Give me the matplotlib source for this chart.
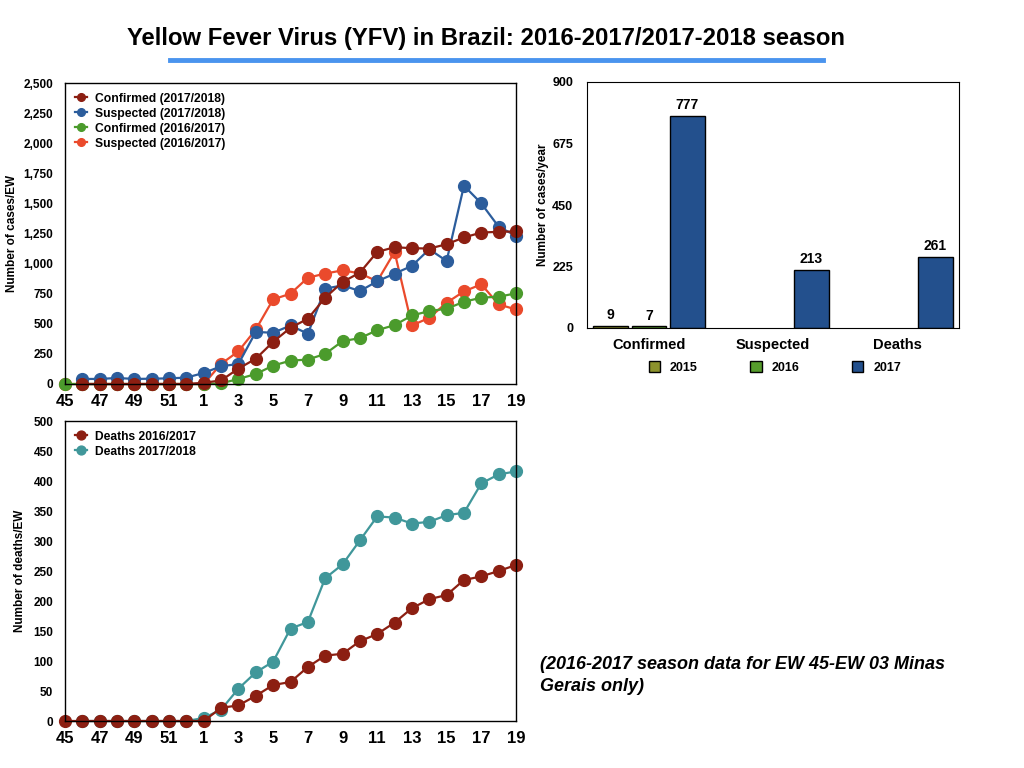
import matplotlib
matplotlib.use("Agg")
import matplotlib.pyplot as plt
from matplotlib.ticker import FuncFormatter

plt.rcParams['font.family'] = ['Liberation Sans', 'DejaVu Sans']

weeks = [45, 46, 47, 48, 49, 50, 51, 52] + list(range(1, 20))
tick_labels = ['45', '47', '49', '51', '1', '3', '5', '7', '9', '11', '13', '15', '17', '19']

# Top chart series (None = no point)
conf_1718 = [None, 0, 0, 0, 0, 0, 0, 0, 10, 30, 128, 210, 350, 467, 542, 717, 847, 925, 1097, 1136, 1128, 1125, 1161, 1217, 1258, 1264, 1267]
susp_1718 = [None, 42, 42, 50, 42, 44, 47, 53, 92, 147, 167, 433, 425, 486, 417, 792, 819, 772, 853, 917, 981, 1119, 1022, 1647, 1500, 1306, 1231]
conf_1617 = [0, 0, 0, 0, 0, 0, 0, 0, 0, 5, 42, 83, 153, 194, 203, 250, 356, 381, 447, 489, 569, 606, 625, 683, 717, 725, 753]
susp_1617 = [0, 0, 0, 0, 0, 0, 0, 0, 0, 167, 272, 453, 703, 750, 883, 917, 944, 919, 853, 1097, 486, 550, 675, 769, 828, 661, 619]

# Bottom chart series
deaths_1617 = [0, 0, 0, 0, 0, 0, 0, 0, 0, 22, 26, 42, 60, 65, 90, 109, 112, 133, 145, 164, 188, 203, 210, 235, 241, 250, 260]
deaths_1718 = [None, 0, 0, 0, 0, 0, 0, 0, 5, 19, 54, 81, 99, 154, 165, 238, 261, 301, 341, 339, 329, 332, 343, 347, 396, 411, 416]

# Bar chart
bar_categories = ['Confirmed', 'Suspected', 'Deaths']
bar_years = ['2015', '2016', '2017']
bar_values = {
    '2015': [9, None, None],
    '2016': [7, None, None],
    '2017': [777, 213, 261],
}

C_DRED = '#8c1f12'
C_BLUE = '#2c5d9c'
C_GREEN = '#4b9b2c'
C_ORANGE = '#ea4a2c'
C_TEAL = '#40979a'
BAR_COLORS = {'2015': '#8c922c', '2016': '#569c2c', '2017': '#23508d'}

fig = plt.figure(figsize=(10.24, 7.68), dpi=100)

fig.text(486 / 1024, 1 - 38 / 768, 'Yellow Fever Virus (YFV) in Brazil: 2016-2017/2017-2018 season',
         ha='center', va='center', fontsize=17.2, fontweight='bold')
fig.add_artist(plt.Line2D([170 / 1024, 823 / 1024], [1 - 60 / 768, 1 - 60 / 768],
                          color='#4a94ee', lw=3.5))

x = list(range(len(weeks)))
tick_pos = [i for i, w in enumerate(weeks) if str(w) in tick_labels]


def xy(vals):
    xs = [i for i, v in zip(x, vals) if v is not None]
    ys = [v for v in vals if v is not None]
    return xs, ys


def style_line_axes(ax, ymax, step, fmt_comma):
    ax.set_xlim(0, len(weeks) - 1)
    ax.set_ylim(0, ymax)
    ax.set_xticks(tick_pos)
    ax.set_xticklabels([str(weeks[i]) for i in tick_pos], fontsize=12, fontweight='bold')
    ax.set_yticks(list(range(0, ymax + 1, step)))
    if fmt_comma:
        ax.yaxis.set_major_formatter(FuncFormatter(lambda v, p: f'{int(v):,}'))
    for lbl in ax.get_yticklabels():
        lbl.set_fontweight('bold')
        lbl.set_fontsize(8.5)
    ax.tick_params(length=0)
    ax.tick_params(axis='y', pad=8.5)
    ax.tick_params(axis='x', pad=7)
    for s in ax.spines.values():
        s.set_linewidth(1.0)


ms = 8.5

# Top chart
ax1 = fig.add_axes([65 / 1024, 1 - 384 / 768, 451 / 1024, 301 / 768])
series_top = [
    (susp_1617, C_ORANGE, 'Suspected (2016/2017)'),
    (conf_1617, C_GREEN, 'Confirmed (2016/2017)'),
    (susp_1718, C_BLUE, 'Suspected (2017/2018)'),
    (conf_1718, C_DRED, 'Confirmed (2017/2018)'),
]
handles = {}
for vals, col, lab in series_top:
    xs, ys = xy(vals)
    h, = ax1.plot(xs, ys, '-o', color=col, lw=1.6, ms=ms, label=lab, clip_on=False)
    handles[lab] = h
order = ['Confirmed (2017/2018)', 'Suspected (2017/2018)', 'Confirmed (2016/2017)', 'Suspected (2016/2017)']
ax1.legend([handles[k] for k in order], order, loc='upper left', frameon=False,
           handlelength=1.0, markerscale=0.65, borderaxespad=0.4,
           labelspacing=0.25, handletextpad=0.7, prop={'weight': 'bold', 'size': 8.7})
style_line_axes(ax1, 2500, 250, True)
ax1.set_ylabel('Number of cases/EW', fontsize=8.5, fontweight='bold', labelpad=4)

# Bottom chart
ax2 = fig.add_axes([65 / 1024, 1 - 721 / 768, 451 / 1024, 300 / 768])
xs, ys = xy(deaths_1718)
h2, = ax2.plot(xs, ys, '-o', color=C_TEAL, lw=1.6, ms=ms, label='Deaths 2017/2018', clip_on=False)
xs, ys = xy(deaths_1617)
h1, = ax2.plot(xs, ys, '-o', color=C_DRED, lw=1.6, ms=ms, label='Deaths 2016/2017', clip_on=False)
ax2.legend([h1, h2], ['Deaths 2016/2017', 'Deaths 2017/2018'], loc='upper left', frameon=False,
           handlelength=1.0, markerscale=0.75, borderaxespad=0.4, labelspacing=0.25,
           handletextpad=0.7, prop={'weight': 'bold', 'size': 8.7})
style_line_axes(ax2, 500, 50, False)
ax2.set_ylabel('Number of deaths/EW', fontsize=8.5, fontweight='bold', labelpad=5)

# Bar chart
ax3 = fig.add_axes([587 / 1024, 1 - 328 / 768, 372 / 1024, 246 / 768])
width = 0.28
offsets = {'2015': -0.31, '2016': 0.0, '2017': 0.31}
bar_handles = []
for yr in bar_years:
    xs_b = [i + offsets[yr] for i, v in enumerate(bar_values[yr]) if v is not None]
    ys_b = [v for v in bar_values[yr] if v is not None]
    bars = ax3.bar(xs_b, ys_b, width=width, color=BAR_COLORS[yr], edgecolor='black', lw=1.0, label=yr)
    bar_handles.append(bars)
    for xb, yb in zip(xs_b, ys_b):
        ax3.text(xb, yb + 12, str(yb), ha='center', va='bottom', fontsize=10, fontweight='bold')
ax3.set_xlim(-0.5, 2.5)
ax3.set_ylim(0, 900)
ax3.set_yticks([0, 225, 450, 675, 900])
ax3.set_xticks(range(len(bar_categories)))
ax3.set_xticklabels(bar_categories, fontsize=10.5, fontweight='bold')
for lbl in ax3.get_yticklabels():
    lbl.set_fontweight('bold')
    lbl.set_fontsize(9)
ax3.tick_params(length=0)
ax3.tick_params(axis='y', pad=10)
ax3.tick_params(axis='x', pad=7)
ax3.set_ylabel('Number of cases/year', fontsize=8.5, fontweight='bold', labelpad=2)
ax3.legend(bar_handles, bar_years, loc='upper center', bbox_to_anchor=(0.505, -0.09), ncol=3,
           frameon=False, handlelength=0.9, handleheight=0.9, columnspacing=4.2,
           handletextpad=0.8, prop={'weight': 'bold', 'size': 9})

fig.text(540 / 1024, 1 - 675.5 / 768, '(2016-2017 season data for EW 45-EW 03 Minas\nGerais only)',
         ha='left', va='center', fontsize=13, fontweight='bold', style='italic', linespacing=1.4)

fig.savefig('out.png', dpi=100)
